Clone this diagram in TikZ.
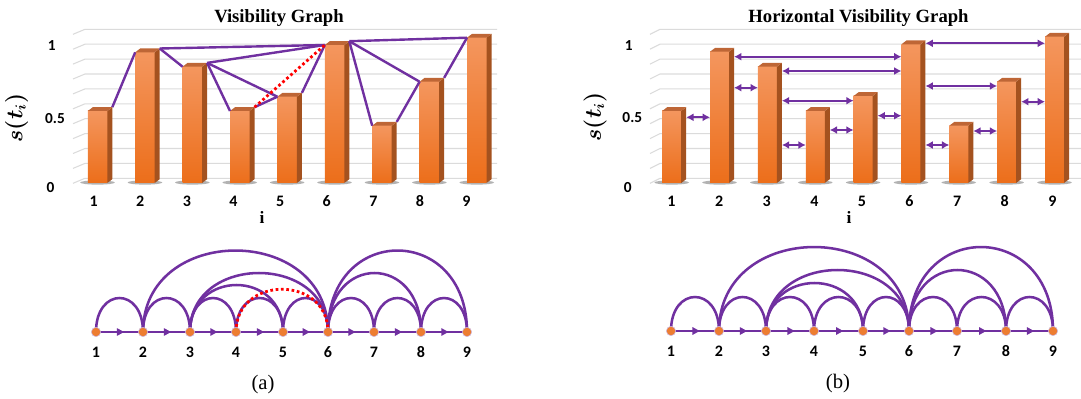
\documentclass[tikz,border=0pt]{standalone}
\usepackage{bm}
\usepackage{fontspec}
\setmainfont{Liberation Serif}
\newfontfamily\numfont{Carlito}
\usetikzlibrary{calc,arrows.meta,decorations.markings,positioning}
\definecolor{vgpurple}{HTML}{7030A0}
\definecolor{barhi}{HTML}{F4965E}
\definecolor{barlo}{HTML}{EC6E1A}
\definecolor{barside}{HTML}{A4521F}
\definecolor{bartop}{HTML}{BE6636}
\definecolor{dotorange}{HTML}{ED7D31}
\tikzset{
    grid line/.style={draw=black!14, line width=0.8pt},
    vgline/.style={draw=vgpurple, line width=1.8pt, line join=round},
    redline/.style={draw=red, line width=2.1pt, dash pattern=on 2pt off 2pt},
    hvarrow/.style={draw=vgpurple, line width=1.7pt, {Latex[length=5.5pt,width=6pt]}-{Latex[length=5.5pt,width=6pt]}},
    link/.style={draw=vgpurple, line width=1.9pt},
    flow/.style={color=vgpurple, line width=2pt, postaction={decorate},
        decoration={markings, mark=at position 0.6 with {\arrow{Triangle[length=5.5pt,width=5.5pt]}}}},
    dot/.style={circle, fill=dotorange, draw=vgpurple!35, line width=0.4pt, minimum size=7pt, inner sep=0pt},
    ticklab/.style={font=\numfont\bfseries\fontsize{12}{14}\selectfont, inner sep=0pt},
    vallab/.style={font=\numfont\bfseries\fontsize{11.5}{13}\selectfont, inner sep=0pt},
    xlab/.style={inner sep=0pt, font=\bfseries\fontsize{13}{15}\selectfont},
    ylab/.style={rotate=90, inner sep=0pt, font=\fontsize{16}{18}\selectfont},
    charttitle/.style={font=\bfseries\fontsize{14}{16}\selectfont, inner sep=0pt},
    subcap/.style={font=\fontsize{15.5}{18}\selectfont, inner sep=0pt}
}
% one 3D column: name, left x, top y, width
\newcommand{\colbar}[4]{%
    \fill[black!30] (#2+#4*0.5,182.5) ellipse [x radius=13pt, y radius=1.6pt];
    \shade[top color=barhi, bottom color=barlo] (#2,#3) rectangle (#2+#4,183);
    \fill[barside] (#2+#4,#3) -- ++(5,-3.8) -- (#2+#4+5,179.2) -- (#2+#4,183) -- cycle;
    \fill[bartop] (#2,#3) -- ++(5,-3.8) -- ++(#4,0) -- (#2+#4,#3) -- cycle;
    \coordinate (#1-fl) at (#2,#3);
    \coordinate (#1-br) at (#2+#4+5,#3-3.8);
    \coordinate (#1-x0) at (#2,0);
    \coordinate (#1-x1) at (#2+#4+5,0);
}

\begin{document}
\begin{tikzpicture}[x=0.75pt, y=-0.75pt]
    \useasboundingbox (0,0) rectangle (1081,399);

    % Visibility graph chart
    \foreach \g in {0,...,10}
        \draw[grid line] (73,34.3+14.9*\g) -- (85,29.3+14.9*\g) -- (497,29.3+14.9*\g);
    \foreach \t [count=\i] in {111,52.3,66.7,111,96.7,45,125.7,81.7,37.7} {
        \pgfmathsetmacro\xl{87.8+47.4*(\i-1)}
        \colbar{v\i}{\xl}{\t}{19.5}
    }
    \foreach \a/\b in {1/2,2/6,2/3,3/6,3/4,3/5,4/5,5/6,6/7,6/8,6/9,7/8,8/9}
        \draw[vgline] (v\a-br) -- (v\b-fl);
    \draw[redline] (v4-br) -- (v6-fl);

    \node[charttitle] (vgtitle) at (279,18) {Visibility Graph};
    \node[vallab] (vone) at (51.7,46) {1};
    \node[vallab] (vhalf) at (55,118.3) {0.5};
    \node[vallab] (vzero) at (50.6,188) {0};
    \node[ylab] (vylab) at (16.5,118) {$\bm{s(t_i)}$};
    \foreach \i in {1,...,9}
        \node[ticklab] (vt\i) at (93.7+46.6*\i-46.6,201.5) {\i};
    \node[xlab] (vxlab) at (262,217) {i};

    % Horizontal visibility graph chart
    \foreach \g in {0,...,10}
        \draw[grid line] (650,34.3+14.9*\g) -- (660,29.3+14.9*\g) -- (1081,29.3+14.9*\g);
    \foreach \t [count=\i] in {111,51.7,66.7,111,96,44.3,125.7,81.7,36.7} {
        \pgfmathsetmacro\xl{662.2+47.85*(\i-1)}
        \colbar{h\i}{\xl}{\t}{19}
    }
    \foreach \a/\b/\y in {1/2/117.3,2/6/56.7,2/3/87.7,3/6/71,3/5/100.7,3/4/145,4/5/130,
                          5/6/115.7,6/9/43.3,6/8/86,6/7/145,7/8/131,8/9/101.7}
        \draw[hvarrow] ($(h\a-x1)+(0,\y)$) -- ($(h\b-x0)+(0,\y)$);

    \node[charttitle] (hvgtitle) at (858.5,18) {Horizontal Visibility Graph};
    \node[vallab] (hone) at (628.8,46) {1};
    \node[vallab] (hhalf) at (632.3,118) {0.5};
    \node[vallab] (hzero) at (627.8,188) {0};
    \node[ylab] (hylab) at (595,117) {$\bm{s(t_i)}$};
    \foreach \i in {1,...,9}
        \node[ticklab] (ht\i) at (671.5+47.6*\i-47.6,201.5) {\i};
    \node[xlab] (hxlab) at (849,217) {i};

    % arc diagram (a)
    \foreach \x [count=\i] in {96,143,190,236,283,328,374,421,467}
        \coordinate (a\i) at (\x,332);
    \foreach \i [evaluate=\i as \j using int(\i+1)] in {1,...,8}
        \draw[flow] (a\i) -- (a\j);
    \foreach \p/\q/\h in {1/2/34,2/3/34,3/4/34,4/5/34,5/6/34,6/7/34,7/8/34,8/9/34,
                          3/5/47,3/6/59,6/8/59,2/6/81.5,6/9/81.5}
        \draw[link] (a\p) .. controls +(0,-1.333*\h) and +(0,-1.333*\h) .. (a\q);
    \draw[redline] (a4) .. controls +(0,-57) and +(0,-57) .. (a6);
    \foreach \i in {1,...,9} {
        \node[dot] (ad\i) at (a\i) {};
        \node[ticklab, below=11pt of a\i] (al\i) {\i};
    }
    \node[subcap] (capa) at (263,385) {(a)};

    % arc diagram (b)
    \foreach \x [count=\i] in {671,719,766,814,863,909,957,1006,1053}
        \coordinate (b\i) at (\x,331);
    \foreach \i [evaluate=\i as \j using int(\i+1)] in {1,...,8}
        \draw[flow] (b\i) -- (b\j);
    \foreach \p/\q/\h in {1/2/34,2/3/34,3/4/34,4/5/34,5/6/34,6/7/34,7/8/34,8/9/34,
                          3/5/48,3/6/61,6/8/61,2/6/84,6/9/84}
        \draw[link] (b\p) .. controls +(0,-1.333*\h) and +(0,-1.333*\h) .. (b\q);
    \foreach \i in {1,...,9} {
        \node[dot] (bd\i) at (b\i) {};
        \node[ticklab, below=11pt of b\i] (bl\i) {\i};
    }
    \node[subcap] (capb) at (838,384) {(b)};
\end{tikzpicture}
\end{document}
